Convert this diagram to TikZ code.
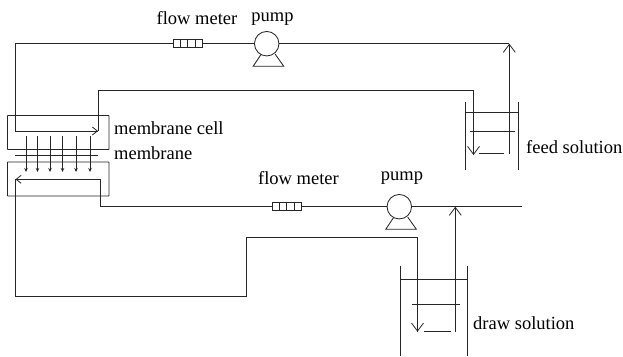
\documentclass[tikz,border=0pt]{standalone}
\usepackage{fontspec}
\setmainfont{Liberation Serif}
\usetikzlibrary{arrows.meta}
\tikzset{
  pipe/.style={line width=0.85pt,draw=black!85},
  wide/.style={pipe,-{Straight Barb[length=8pt,width=12pt,line width=0.8pt]}},
  narrow/.style={pipe,-{Straight Barb[length=5pt,width=8pt,line width=0.8pt]}},
  flux/.style={line width=0.7pt,draw=black!85,-{Stealth[length=4pt,width=3.5pt]}},
  box/.style={draw=black!85,line width=0.85pt,fill=white,inner sep=0pt,outer sep=0pt,minimum height=8pt,minimum width=7.2pt},
  cell/.style={draw=black!85,line width=0.85pt,inner sep=0pt,outer sep=0pt,minimum width=101.5pt,minimum height=34pt,rounded corners=0.5pt},
  pumphead/.style={circle,draw=black!85,line width=0.85pt,fill=white,minimum size=24.5pt,inner sep=0pt},
  lbl/.style={inner sep=0pt,font=\fontsize{18.5}{20}\selectfont},
  lblw/.style={lbl,anchor=west}
}
\newcommand{\flowmeter}[3]{%
  \node[box] (#1a) at (#2,#3) {};
  \node[box,anchor=west] (#1b) at (#1a.east) {};
  \node[box,anchor=west] (#1c) at (#1b.east) {};
  \node[box,anchor=west] (#1d) at (#1c.east) {};
}
\newcommand{\pumpbase}[3]{%
  \draw[pipe,line join=miter] (#2-5.5,#3+10.5) -- (#2-13.5,#3+22.5) -- (#2+17-0,#3+22.5) -- (#2+8.5,#3+10.5);
  \node[pumphead] (#1) at (#2,#3) {};
}
\begin{document}
\begin{tikzpicture}[x=1pt,y=-1pt]
\useasboundingbox (0,0) rectangle (623,356);

% membrane cell
\node[cell] (topcell) at (58.25,132.5) {};
\node[cell] (botcell) at (58.25,179) {};
\coordinate (mL) at (15,155.7);
\coordinate (mR) at (98,155.7);
\draw[pipe] (mL) -- (mR);
\foreach \i/\x in {1/26,2/37.5,3/50,4/62.5,5/76,6/90}{
  \coordinate (fa\i) at (\x,136);
  \coordinate (fb\i) at (\x,172);
  \draw[flux] (fa\i) -- (fb\i);
}

% feed loop
\coordinate (f1) at (15.5,131);
\coordinate (f2) at (98,131);
\coordinate (f3) at (98,90.3);
\coordinate (f4) at (473.5,90.3);
\coordinate (f5) at (473.5,155);
\coordinate (r1) at (509.3,154);
\coordinate (r2) at (509.3,43.7);
\coordinate (r3) at (15.5,43.7);
\draw[pipe] (r2) -- (r3) -- (f1) -- (f2);
\draw[narrow] (f1) -- (f2);
\draw[pipe] (f2) -- (f3) -- (f4) -- (f5);
\draw[wide] (f4) -- (f5);
\draw[wide] (r1) -- (r2);
\flowmeter{fmA}{177}{43.8}
\pumpbase{pumpA}{266.7}{43.7}

% feed tank
\coordinate (ta) at (465.7,102);
\coordinate (tb) at (465.7,170);
\coordinate (tc) at (518.7,102);
\coordinate (td) at (518.7,170);
\draw[pipe] (ta) -- (tb) (tc) -- (td);
\draw[pipe] (465.7,112) -- (518.7,112);
\draw[pipe] (470,131) -- (515,131);
\draw[pipe] (479,153.5) -- (504,153.5);

% draw loop
\coordinate (d1) at (100,179.3);
\coordinate (d2) at (15.5,179.3);
\coordinate (d3) at (100,206.7);
\coordinate (d4) at (522,206.7);
\coordinate (e1) at (15.5,296);
\coordinate (e2) at (246,296);
\coordinate (e3) at (246,237.3);
\coordinate (e4) at (417.5,237.3);
\coordinate (e5) at (417.5,331.7);
\coordinate (u1) at (455.3,332);
\coordinate (u2) at (455.3,206.7);
\draw[narrow] (d1) -- (d2);
\draw[pipe] (d1) -- (d3) -- (d4);
\draw[pipe] (d2) -- (e1) -- (e2) -- (e3) -- (e4) -- (e5);
\draw[wide] (e4) -- (e5);
\draw[wide] (u1) -- (u2);
\flowmeter{fmB}{276}{206.8}
\pumpbase{pumpB}{399.3}{206.7}

% draw tank
\coordinate (ua) at (400,265.7);
\coordinate (ub) at (400,356);
\coordinate (uc) at (467.3,265.7);
\coordinate (ud) at (467.3,356);
\draw[pipe] (ua) -- (ub) (uc) -- (ud);
\draw[pipe] (400,279) -- (467.3,279);
\draw[pipe] (412,304.7) -- (460,304.7);
\draw[pipe] (424,331.7) -- (451,331.7);

% labels
\node[lbl] (l1) at (197,18.5) {flow meter};
\node[lbl] (l2) at (272.5,19) {pump};
\node[lblw] (l3) at (114,128.5) {membrane cell};
\node[lblw] (l4) at (114,153) {membrane};
\node[lblw] (l5) at (526,147.5) {feed solution};
\node[lbl] (l6) at (298.5,178) {flow meter};
\node[lbl] (l7) at (402,178) {pump};
\node[lblw] (l8) at (473,323) {draw solution};
\end{tikzpicture}
\end{document}
